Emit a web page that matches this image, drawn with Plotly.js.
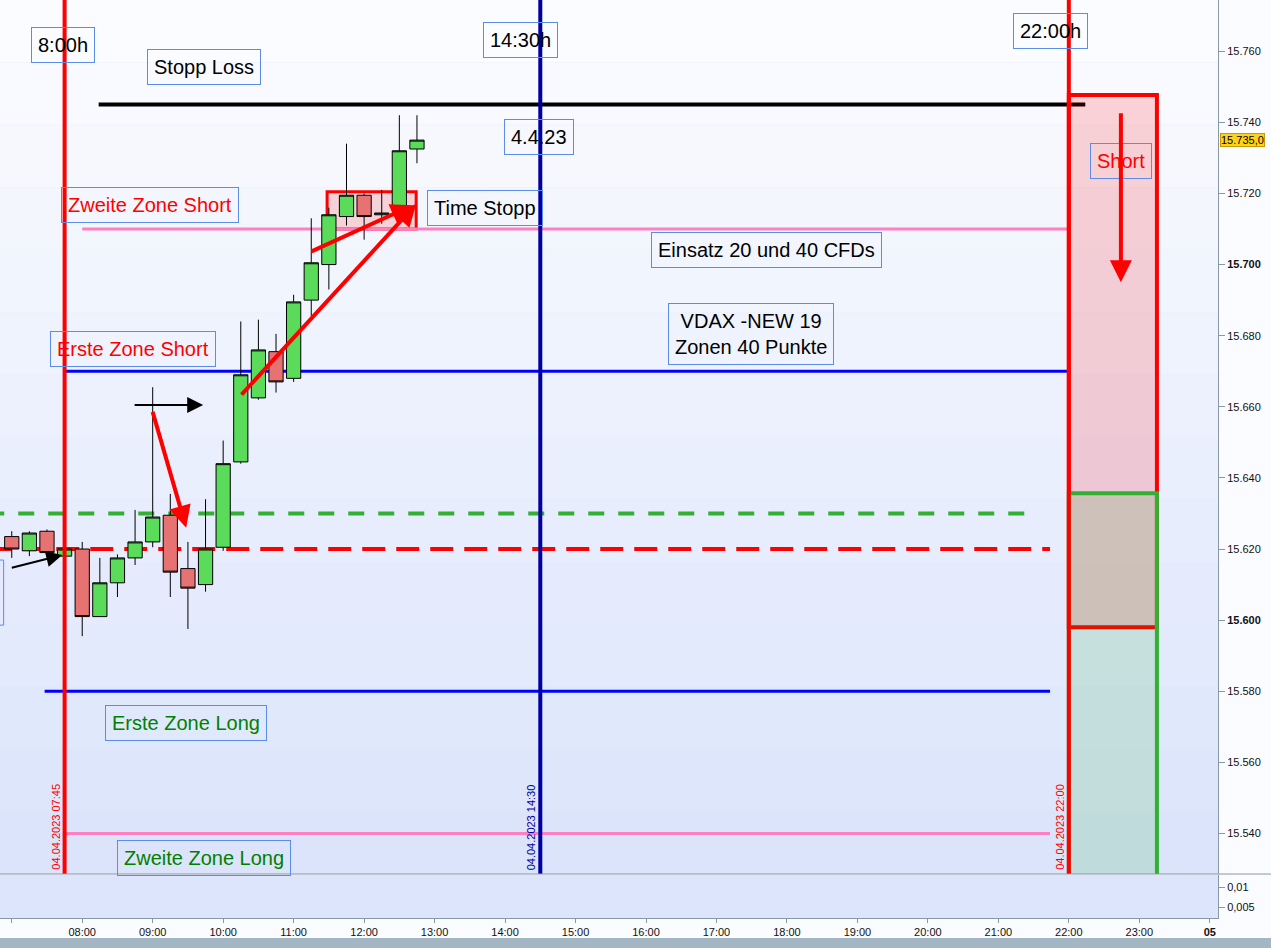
<!DOCTYPE html>
<html>
<head>
<meta charset="utf-8">
<script src="https://cdn.plot.ly/plotly-3.0.1.min.js"></script>
<style>
  html, body { margin: 0; padding: 0; background: #fbfcff; }
  #chartBox { width: 1271px; height: 948px; }
</style>
</head>
<body>
<div id="chartBox"></div>
<script>
const day = '2023-04-04 ';

// 15-Minuten-Kerzen DAX, 04.04.2023
const candleTimes = ['07:00','07:15','07:30','07:45','08:00','08:15','08:30','08:45',
                     '09:00','09:15','09:30','09:45','10:00','10:15','10:30','10:45',
                     '11:00','11:15','11:30','11:45','12:00','12:15','12:30','12:45'];
const opens  = [15623.5,15619.5,15625,15618,15620,15601,15610.5,15617.5,
                15622,15629.5,15614.5,15610,15620.5,15644.5,15662.5,15675.5,
                15668,15690,15700,15713.5,15719.5,15714,15715,15732.5];
const highs  = [15625,15625,15625.5,15620.5,15622,15617.5,15618.5,15631,
                15665.5,15635.5,15622,15634,15650.5,15684,15684.5,15680.5,
                15691.5,15713,15716,15734,15720,15721,15742,15742];
const lows   = [15617.5,15618,15618,15618,15595.5,15601,15606.5,15615.5,
                15620.5,15606.5,15597.5,15608,15619.5,15644,15662,15664,
                15667,15685.5,15693,15711,15707,15711.5,15714,15728.5];
const closes = [15620,15624.5,15619,15620,15601,15610.5,15617.5,15622,
                15629,15613.5,15609,15620,15644,15669,15676,15667,
                15689.5,15700.5,15714,15719.5,15713.5,15714.5,15732,15735];

// Horizontale Linien (Stopp Loss, Zonen)
const levelPrices = [15745, 15710, 15670, 15630, 15620, 15580, 15540];
const levelFrom   = ['08:14','08:00','07:45','06:40','06:40','07:28','07:44'];
const levelTo     = ['22:14','22:00','22:00','21:31','21:44','21:44','21:44'];

// Zeitmarken
const markerTimes  = ['07:45','14:30','22:00'];
const markerLabels = ['04.04.2023 07:45','04.04.2023 14:30','04.04.2023 22:00'];

// Short/Long Kasten rechts
const zoneFrom = '22:00', zoneTo = '23:15';
const shortZone = [15598, 15747.7];
const longZone  = [15500, 15635.7];
// Time-Stopp Kasten
const stopFrom = '11:28:30', stopTo = '12:44:20';
const stopZone = [15710, 15720.5];

// Beschriftungen
const noteTexts  = ['8:00h','Stopp Loss','14:30h','22:00h','4.4.23','Zweite Zone Short',
                    'Time Stopp','Einsatz 20 und 40 CFDs','Erste Zone Short',
                    'VDAX -NEW 19<br>Zonen 40 Punkte','Erste Zone Long','Zweite Zone Long','Short'];
const noteTimes  = ['07:44','09:44','14:13','21:44','14:29','08:58',
                    '13:43','17:43','08:43','17:29','09:28','09:44','22:44'];
const notePrices = [15761.7,15755.6,15763.2,15765.7,15735.9,15716.7,
                    15715.9,15704.1,15676.2,15680.5,15571,15533,15729.1];
const noteKinds  = ['b','b','b','b','b','s','b','b','s','b','l','l','s'];

// Pfeile
const arrowFromT = ['06:58:45','08:43:20','08:59:35','10:14:30','11:14:00','22:44:20'];
const arrowFromP = [15614.6,15660.5,15659,15663,15703.5,15743];
const arrowToT   = ['07:43:00','09:43:00','09:28:30','12:44:20','12:41:40','22:44:20'];
const arrowToP   = [15618.3,15660.5,15626,15717,15716.7,15695];
const arrowKinds = ['k','k','r','r','r','r'];

const priceTicks = [15540,15560,15580,15600,15620,15640,15660,15680,15700,15720,15740,15760];
const hourTicks = ['07:00','08:00','09:00','10:00','11:00','12:00','13:00','14:00','15:00',
                   '16:00','17:00','18:00','19:00','20:00','21:00','22:00','23:00'];
const volTicks = [0.005, 0.01];
const volTickText = ['0,005', '0,01'];

const T = t => day + t;
const fmtPrice = p => {
    const s = String(p);
    return s.slice(0, 2) + '.' + s.slice(2);
};

const font = 'Liberation Sans, Arial, sans-serif';

const candles = {
    type: 'candlestick',
    x: candleTimes.map(T),
    open: opens, high: highs, low: lows, close: closes,
    increasing: { fillcolor: '#5adc5a', line: { color: '#000', width: 1 } },
    decreasing: { fillcolor: '#e67272', line: { color: '#000', width: 1 } },
    whiskerwidth: 0,
    hoverinfo: 'skip',
    xaxis: 'x', yaxis: 'y'
};

// leeres Volumen-Fenster unten
const volume = {
    type: 'scatter', mode: 'lines',
    x: [T('06:50')], y: [0.001],
    line: { width: 0 }, hoverinfo: 'skip',
    xaxis: 'x', yaxis: 'y2'
};

const shapes = [];

// Hintergrund-Verlauf in Stufen
const nBands = 14;
for (let i = 0; i < nBands; i++) {
    const f = i / (nBands - 1);
    const r = Math.round(251 - f * 32), g = Math.round(252 - f * 24), b = Math.round(255 - f * 4);
    shapes.push({
        type: 'rect', layer: 'below', xref: 'x domain', yref: 'y domain',
        x0: 0, x1: 1, y0: 1 - (i + 1) / nBands, y1: 1 - i / nBands,
        fillcolor: `rgb(${r},${g},${b})`, line: { width: 0 }
    });
}
shapes.push({
    type: 'rect', layer: 'below', xref: 'x domain', yref: 'y2 domain',
    x0: 0, x1: 1, y0: 0, y1: 1, fillcolor: '#dce5fb', line: { width: 0 }
});

// Time-Stopp Kasten
shapes.push({
    type: 'rect', layer: 'below', xref: 'x', yref: 'y',
    x0: T(stopFrom), x1: T(stopTo), y0: stopZone[0], y1: stopZone[1],
    fillcolor: 'rgba(255,0,0,0.15)', line: { color: '#ff0000', width: 3 }
});

const levelStyles = [
    { color: '#000000', width: 4 },
    { color: '#ff80c0', width: 3 },
    { color: '#0000ff', width: 3 },
    { color: '#33b033', width: 4, dash: '16px,14px' },
    { color: '#ff0000', width: 4, dash: '23px,11px' },
    { color: '#0000ff', width: 3 },
    { color: '#ff80c0', width: 3 }
];
levelPrices.forEach((p, i) => {
    shapes.push({
        type: 'line', layer: 'below', xref: 'x', yref: 'y',
        x0: T(levelFrom[i]), x1: T(levelTo[i]), y0: p, y1: p,
        line: levelStyles[i]
    });
});

// Zonen rechts
shapes.push({
    type: 'rect', xref: 'x', yref: 'y',
    x0: T(zoneFrom), x1: T(zoneTo), y0: shortZone[0], y1: shortZone[1],
    fillcolor: 'rgba(255,0,0,0.16)', line: { color: '#ff0000', width: 4 }
});
shapes.push({
    type: 'rect', xref: 'x', yref: 'y',
    x0: T(zoneFrom), x1: T(zoneTo), y0: longZone[0], y1: longZone[1],
    fillcolor: 'rgba(0,160,0,0.12)', line: { color: '#33b033', width: 4 }
});

// Senkrechte Zeitlinien
const markerColors = ['#ff0000', '#0000a0', '#ff0000'];
markerTimes.forEach((t, i) => {
    shapes.push({
        type: 'line', xref: 'x', yref: 'y domain',
        x0: T(t), x1: T(t), y0: 0, y1: 1,
        line: { color: markerColors[i], width: 4 }
    });
});

// angeschnittener Kasten links
shapes.push({
    type: 'rect', xref: 'paper', yref: 'y',
    x0: -0.02, x1: 0.003, y0: 15598.6, y1: 15616.9,
    line: { color: '#5b8ce8', width: 1 }
});

// Trennlinie und grauer Balken unten
shapes.push({
    type: 'line', xref: 'paper', yref: 'paper',
    x0: 0, x1: 1.05, y0: 0.0479, y1: 0.0479,
    line: { color: '#8898a8', width: 1 }
});
shapes.push({
    type: 'rect', xref: 'paper', yref: 'paper',
    x0: 0, x1: 1.05, y0: -0.0335, y1: -0.0218,
    fillcolor: '#a3b6c4', line: { width: 0 }
});

const annotations = [];
const noteColor = { b: '#000000', s: '#ff0000', l: '#008000' };
noteTexts.forEach((txt, i) => {
    annotations.push({
        xref: 'x', yref: 'y', x: T(noteTimes[i]), y: notePrices[i],
        text: txt, showarrow: false,
        font: { family: font, size: 20, color: noteColor[noteKinds[i]] },
        bordercolor: '#5b8ce8', borderwidth: 1, borderpad: 6,
        bgcolor: 'rgba(0,0,0,0)', align: 'center'
    });
});

markerTimes.forEach((t, i) => {
    annotations.push({
        xref: 'x', yref: 'y domain', x: T(t), y: 0,
        xanchor: 'right', yanchor: 'bottom', xshift: -1, yshift: 2,
        text: markerLabels[i], textangle: -90, showarrow: false,
        font: { family: font, size: 11, color: markerColors[i] }
    });
});

const arrowStyle = {
    k: { color: '#000000', width: 2, size: 1.6 },
    r: { color: '#ff0000', width: 4, size: 1.1 }
};
arrowFromT.forEach((t, i) => {
    const st = arrowStyle[arrowKinds[i]];
    annotations.push({
        xref: 'x', yref: 'y', axref: 'x', ayref: 'y',
        x: T(arrowToT[i]), y: arrowToP[i],
        ax: T(t), ay: arrowFromP[i],
        text: '', showarrow: true, arrowhead: 2,
        arrowsize: st.size, arrowwidth: st.width, arrowcolor: st.color,
        standoff: 0, startstandoff: 0
    });
});

// aktueller Kurs am Rand
annotations.push({
    xref: 'paper', yref: 'y', x: 1, y: closes[closes.length - 1],
    xanchor: 'left', xshift: 2, showarrow: false,
    text: fmtPrice(closes[closes.length - 1]) + ',0',
    font: { family: font, size: 11, color: '#000' },
    bgcolor: '#ffd21a', bordercolor: '#c89a00', borderwidth: 1, borderpad: 0
});

const layout = {
    width: 1271, height: 948,
    margin: { l: 0, r: 53, t: 0, b: 30 },
    paper_bgcolor: '#fbfcff',
    plot_bgcolor: '#dce5fb',
    showlegend: false,
    boxgap: 0.15, boxgroupgap: 0.05,
    font: { family: font, size: 11, color: '#111' },
    xaxis: {
        type: 'date', anchor: 'y2', domain: [0, 1],
        range: [T('06:50'), '2023-04-05 00:07'],
        rangeslider: { visible: false },
        tickvals: hourTicks.map(T).concat(['2023-04-05 00:00']),
        ticktext: hourTicks.concat(['<b>05</b>']),
        ticks: 'outside', ticklen: 4, tickcolor: '#8898a8',
        showline: true, linecolor: '#8898a8', linewidth: 1,
        showgrid: false, zeroline: false,
        tickfont: { family: font, size: 11, color: '#111' },
        fixedrange: true
    },
    yaxis: {
        domain: [0.0479, 1], anchor: 'x', side: 'right',
        range: [15528.6, 15774.4],
        tickvals: priceTicks,
        ticktext: priceTicks.map(p => (p % 100 === 0 ? '<b>' + fmtPrice(p) + '</b>' : fmtPrice(p))),
        ticks: 'outside', ticklen: 6, tickcolor: '#8898a8',
        showline: true, linecolor: '#8898a8', linewidth: 1,
        showgrid: false, zeroline: false,
        tickfont: { family: font, size: 11, color: '#111' },
        fixedrange: true
    },
    yaxis2: {
        domain: [0, 0.0468], anchor: 'x', side: 'right',
        range: [0.00225, 0.013],
        tickvals: volTicks, ticktext: volTickText,
        ticks: 'outside', ticklen: 6, tickcolor: '#8898a8',
        showline: true, linecolor: '#8898a8', linewidth: 1,
        showgrid: false, zeroline: false,
        tickfont: { family: font, size: 11, color: '#111' },
        fixedrange: true
    },
    shapes: shapes,
    annotations: annotations
};

Plotly.newPlot('chartBox', [volume, candles], layout, { displayModeBar: false, staticPlot: true });
</script>
</body>
</html>
